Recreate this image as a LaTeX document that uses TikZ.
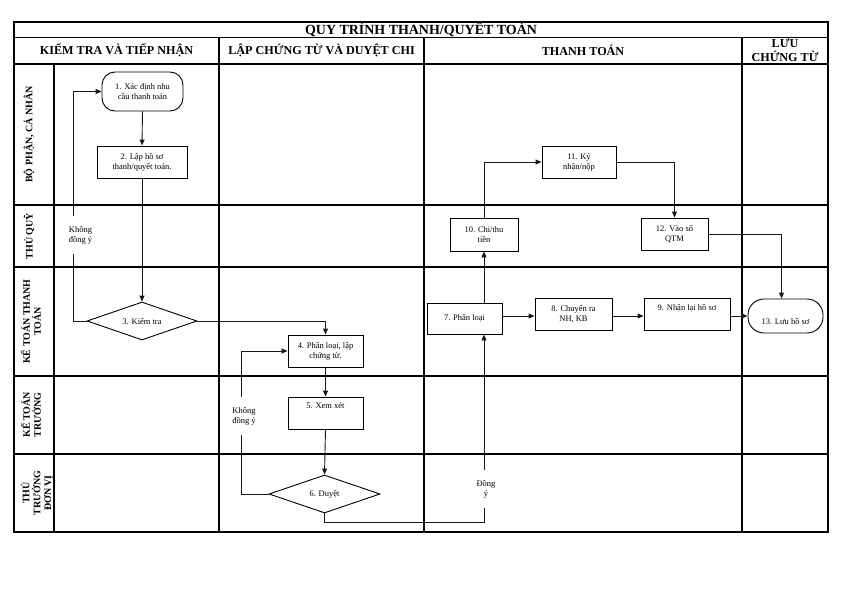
\documentclass[tikz,border=0pt]{standalone}
\usepackage{fontspec}
\setmainfont{Liberation Serif}
\usetikzlibrary{arrows.meta,shapes.geometric,calc}
\begin{document}
\begin{tikzpicture}[x=1bp,y=-1bp,
  grid/.style={line width=1.2bp, draw=black},
  box/.style={draw, line width=0.9bp, align=center, font=\fontsize{8.5}{10}\selectfont, inner sep=1bp},
  txt/.style={align=center, font=\fontsize{8.5}{10}\selectfont, inner sep=0pt},
  dia/.style={draw, diamond, line width=0.9bp, inner sep=0pt, font=\fontsize{8.5}{10}\selectfont, aspect=2.9},
  conn/.style={line width=0.9bp, draw=black!90},
  arr/.style={conn, -{Triangle[length=6bp,width=5bp]}},
  lbl/.style={fill=white, align=center, font=\fontsize{8.5}{10}\selectfont, inner xsep=1bp, inner ysep=10bp},
  hdr/.style={font=\bfseries\fontsize{12.2}{13}\selectfont, align=center},
  rowlbl/.style={font=\bfseries\fontsize{10}{11}\selectfont, align=center, rotate=90}
]
\useasboundingbox (0,0) rectangle (842,595);

% table
\draw[grid] (14,22) rectangle (828,532);
\draw[grid] (14,37.5) -- (828,37.5);
\draw[grid] (14,64) -- (828,64);
\foreach \yy in {205,267,376,454} \draw[grid] (14,\yy) -- (828,\yy);
\draw[grid] (54,64) -- (54,532);
\foreach \xx in {219,424,742} \draw[grid] (\xx,37.5) -- (\xx,532);

\node[font=\bfseries\fontsize{14}{15}\selectfont] (title) at (421,29.8) {QUY TRÌNH THANH/QUYẾT TOÁN};
\node[hdr] (h1) at (116.5,50.5) {KIỂM TRA VÀ TIẾP NHẬN};
\node[hdr] (h2) at (321.5,50.5) {LẬP CHỨNG TỪ VÀ DUYỆT CHI};
\node[hdr] (h3) at (583,50.5) {THANH TOÁN};
\node[font=\bfseries\fontsize{12.2}{14}\selectfont, align=center] (h4) at (785,50.5) {LƯU\\CHỨNG TỪ};

\node[rowlbl] (r1) at (29,134.5) {BỘ PHẬN, CÁ NHÂN};
\node[rowlbl] (r2) at (29,236) {THỦ QUỸ};
\node[rowlbl] (r3) at (31,321.5) {KẾ TOÁN THANH\\TOÁN};
\node[rowlbl] (r4) at (31,415) {KẾ TOÁN\\TRƯỞNG};
\node[rowlbl] (r5) at (37,493) {THỦ\\TRƯỞNG\\ĐƠN VỊ};

% nodes
\node[box, rounded corners=13bp, minimum width=81bp, minimum height=39bp] (n1) at (142.5,91.5) {1. Xác định nhu\\cầu thanh toán};
\node[box, minimum width=90bp, minimum height=32bp] (n2) at (142,162) {2. Lập hồ sơ\\thanh/quyết toán.};
\node[dia, minimum width=110bp, minimum height=38bp] (n3) at (142,321) {3. Kiểm tra};
\node[box, minimum width=75bp, minimum height=32bp] (n4) at (325.5,351) {4. Phân loại, lập\\chứng từ.};
\node[box, minimum width=75bp, minimum height=32bp, label={[txt, yshift=7bp]center:5. Xem xét}] (n5) at (325.5,413) {};
\node[dia, minimum width=111bp, minimum height=38bp] (n6) at (324.5,494) {6. Duyệt};
\node[box, minimum width=75bp, minimum height=31bp] (n7) at (464.5,318.5) {7. Phân loại};
\node[box, minimum width=77bp, minimum height=32bp] (n8) at (573.5,314) {8. Chuyển ra\\NH, KB};
\node[box, minimum width=86bp, minimum height=32bp, label={[txt, yshift=6bp]center:9. Nhận lại hồ sơ}] (n9) at (687,314) {};
\node[box, minimum width=68bp, minimum height=33bp] (n10) at (484,234.5) {10. Chi/thu\\tiền};
\node[box, minimum width=74bp, minimum height=32bp] (n11) at (579,162) {11. Ký\\nhận/nộp};
\node[box, minimum width=67bp, minimum height=32bp] (n12) at (674.5,234) {12. Vào sổ\\QTM};
\node[box, rounded corners=16bp, minimum width=75bp, minimum height=34bp, label={[txt, yshift=-5bp]center:13. Lưu hồ sơ}] (n13) at (785.5,316) {};

% connectors
\draw[arr] (n1.south) -- (n2.north);
\draw[arr] (n2.south) -- (n3.north);
\draw[arr] (n3.west) -- ++(-13,0) |- (n1.west);
\draw[arr] (n3.east) -| (n4.north);
\draw[arr] (n4.south) -- (n5.north);
\draw[arr] (n5.south) -- (n6.north);
\draw[arr] (n6.west) -- ++(-27,0) |- (n4.west);
\draw[arr] (n6.south) -- ++(0,9) -| (n7.south -| n10.south);
\draw[arr] (n7.north -| n10.south) -- (n10.south);
\draw[arr] (n10.north) |- (n11.west);
\draw[arr] (n11.east) -| (n12.north);
\draw[arr] (n12.east) -| ([xshift=-4bp]n13.north);
\draw[arr] (n7.east |- 0,316) -- (n8.west |- 0,316);
\draw[arr] (n8.east |- 0,316) -- (n9.west |- 0,316);
\draw[arr] (n9.east |- 0,316) -- (n13.west);

% labels on connectors
\node[lbl] (k1) at (80.5,235) {Không\\đồng ý};
\node[lbl] (k2) at (244,416) {Không\\đồng ý};
\node[lbl] (dy) at (486,489) {Đồng\\ý};
\end{tikzpicture}
\end{document}
